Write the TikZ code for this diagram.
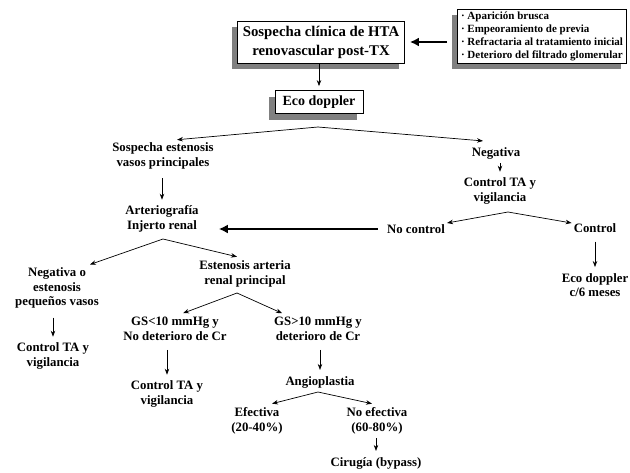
\documentclass[tikz,border=0pt]{standalone}
\usepackage{fontspec}
\setmainfont{Liberation Serif}
\usetikzlibrary{arrows.meta,shadows}
\tikzset{txt/.style={align=center,inner sep=2pt,font=\bfseries\fontsize{12.8}{14.5}\selectfont},
    box/.style={draw,fill=white,line width=0.8pt,inner sep=2pt,
      drop shadow={shadow xshift=-6pt,shadow yshift=-6pt,fill=black!50,opacity=1}},
    arr/.style={-{Stealth[length=6pt,width=4.5pt]},line width=0.7pt},
    vline/.style={arr,shorten <=7pt,shorten >=4pt},
    bigarr/.style={-{Latex[length=9pt,width=9pt]},line width=2.2pt}}
\begin{document}
\begin{tikzpicture}[x=1pt,y=-1pt]
	\useasboundingbox (0,0) rectangle (630,472);
	\node[box,txt,minimum width=167pt,minimum height=42pt,font=\bfseries\fontsize{14.8}{19}\selectfont] (main) at (321,42) {Sospecha clínica de HTA\\renovascular post-TX};
	\node[box,align=left,minimum width=169pt,minimum height=54pt,font=\bfseries\fontsize{11}{13}\selectfont] (list) at (542,36)
		{· Aparición brusca\\· Empeoramiento de previa\\· Refractaria al tratamiento inicial\\· Deterioro del filtrado glomerular};
	\node[box,txt,minimum width=88pt,minimum height=23pt,font=\bfseries\fontsize{14}{16}\selectfont] (eco) at (319,102) {Eco doppler};
	\coordinate (p1) at (318,127);
	\node[txt] (sosp) at (163,156) {Sospecha estenosis\\vasos principales};
	\node[txt] (neg) at (496,153) {Negativa};
	\node[txt] (ctrl1) at (500,191) {Control TA y\\vigilancia};
	\coordinate (p2) at (508,212);
	\node[txt] (noctrl) at (416,229) {No control};
	\node[txt] (control) at (595,228) {Control};
	\node[txt] (ecoc6) at (595,285) {Eco doppler\\c/6 meses};
	\node[txt] (arte) at (162,219) {Arteriografía\\Injerto renal};
	\coordinate (p3) at (163,239);
	\node[txt] (negpeq) at (57,288) {Negativa o\\estenosis\\pequeños vasos};
	\node[txt] (ctrl2) at (53,356) {Control TA y\\vigilancia};
	\node[txt] (esten) at (245,274) {Estenosis arteria\\renal principal};
	\coordinate (p4) at (237,293);
	\node[txt] (gsmenos) at (175,329) {GS<10 mmHg y\\No deterioro de Cr};
	\node[txt] (ctrl3) at (167,394) {Control TA y\\vigilancia};
	\node[txt] (gsmas) at (318,329) {GS>10 mmHg y\\deterioro de Cr};
	\node[txt] (angio) at (320,382) {Angioplastia};
	\coordinate (p5) at (318,392);
	\node[txt] (efec) at (257,421) {Efectiva\\(20-40\%)};
	\node[txt] (noefec) at (377,421) {No efectiva\\(60-80\%)};
	\node[txt] (ciru) at (376,463) {Cirugía (bypass)};

	\draw[bigarr] ([xshift=-10pt]list.west |- main.east) -- ([xshift=5pt]main.east);
	\draw[arr,shorten >=4pt] (main.south -| eco.north) -- (eco.north);
	\draw[arr] (p1) -- ([xshift=14pt,yshift=1pt]sosp.north);
	\draw[arr] (p1) -- ([xshift=-13pt,yshift=4pt]neg.north);
	\draw[vline,shorten <=2pt] (ctrl1.north |- neg.south) -- (ctrl1.north);
	\draw[arr] (p2) -- ([yshift=6pt]noctrl.east);
	\draw[arr] (p2) -- ([yshift=5pt]control.west);
	\draw[vline] (ecoc6.north |- control.south) -- (ecoc6.north);
	\draw[bigarr] ([xshift=-7pt]noctrl.west) -- ([xshift=18pt]arte.east |- noctrl.west);
	\draw[vline] (arte.north |- sosp.south) -- (arte.north);
	\draw[arr] (p3) -- ([xshift=33pt,yshift=1pt]negpeq.north);
	\draw[arr] (p3) -- ([xshift=-8pt,yshift=2pt]esten.north);
	\draw[vline] (ctrl2.north |- negpeq.south) -- (ctrl2.north);
	\draw[arr] (p4) -- ([xshift=8pt,yshift=2pt]gsmenos.north);
	\draw[arr] (p4) -- ([xshift=-36pt,yshift=2pt]gsmas.north);
	\draw[vline] (ctrl3.north |- gsmenos.south) -- (ctrl3.north);
	\draw[vline] (angio.north |- gsmas.south) -- (angio.north);
	\draw[arr] (p5) -- ([xshift=15pt,yshift=2pt]efec.north);
	\draw[arr] (p5) -- ([xshift=-5pt,yshift=2pt]noefec.north);
	\draw[vline,shorten <=2pt] (ciru.north |- noefec.south) -- (ciru.north);
\end{tikzpicture}
\end{document}
